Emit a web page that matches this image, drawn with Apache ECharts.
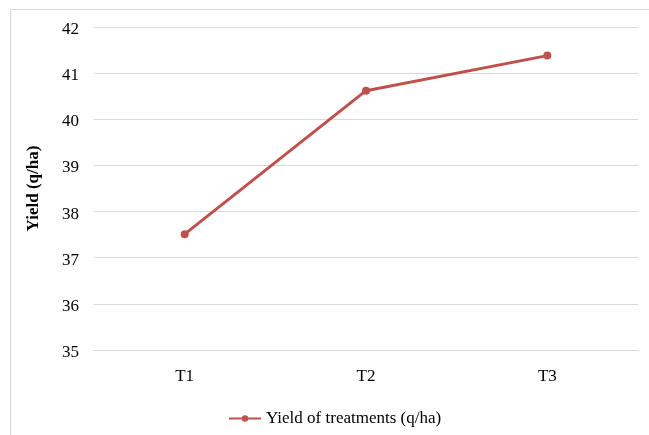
<!DOCTYPE html>
<html>
<head>
<meta charset="utf-8">
<script src="https://cdn.jsdelivr.net/npm/echarts@6/dist/echarts.min.js"></script>
<style>
  html, body { margin: 0; padding: 0; background: #fff; }
  #chart { width: 649px; height: 435px; }
</style>
</head>
<body>
<div id="chart"></div>
<script>
// Treatment yields (q/ha)
const categories = ['T1', 'T2', 'T3'];
const yieldValues = [37.51, 40.62, 41.38];
const seriesName = 'Yield of treatments (q/ha)';
const yTicks = { min: 35, max: 42, interval: 1 };

const FONT = '"Liberation Serif", "Times New Roman", serif';
const RED = '#c0504d';

const chart = echarts.init(document.getElementById('chart'), null, { renderer: 'canvas' });
chart.setOption({
  animation: false,
  backgroundColor: '#ffffff',
  textStyle: { fontFamily: FONT },
  graphic: [
    { type: 'line', shape: { x1: 10.5, y1: 9.5, x2: 649, y2: 9.5 }, style: { stroke: '#d9d9d9', lineWidth: 1 } },
    { type: 'line', shape: { x1: 10.5, y1: 9.5, x2: 10.5, y2: 435 }, style: { stroke: '#d9d9d9', lineWidth: 1 } }
  ],
  grid: { left: 94, right: 11, top: 27, bottom: 85, containLabel: false },
  legend: {
    data: [seriesName],
    top: 405,
    left: 223,
    itemWidth: 32,
    itemHeight: 8,
    itemGap: 5,
    textStyle: { fontFamily: FONT, fontSize: 17, color: '#000' }
  },
  xAxis: {
    type: 'category',
    data: categories,
    boundaryGap: true,
    axisLine: { show: true, lineStyle: { color: '#d9d9d9' } },
    axisTick: { show: false },
    axisLabel: { fontFamily: FONT, fontSize: 17, color: '#000', margin: 18 }
  },
  yAxis: {
    type: 'value',
    min: yTicks.min,
    max: yTicks.max,
    interval: yTicks.interval,
    name: 'Yield (q/ha)',
    nameLocation: 'middle',
    nameGap: 52,
    nameTextStyle: { fontFamily: FONT, fontSize: 17, fontWeight: 'bold', color: '#000' },
    axisLine: { show: false },
    axisTick: { show: false },
    axisLabel: {
      margin: 15,
      formatter: '{v|{value}}',
      rich: { v: { fontFamily: FONT, fontSize: 17, color: '#000', padding: [5, 0, 0, 0] } }
    },
    splitLine: { lineStyle: { color: '#d9d9d9', width: 1 } }
  },
  series: [{
    name: seriesName,
    type: 'line',
    data: yieldValues,
    symbol: 'circle',
    symbolSize: 8,
    lineStyle: { color: RED, width: 3 },
    itemStyle: { color: RED }
  }]
});
</script>
</body>
</html>
